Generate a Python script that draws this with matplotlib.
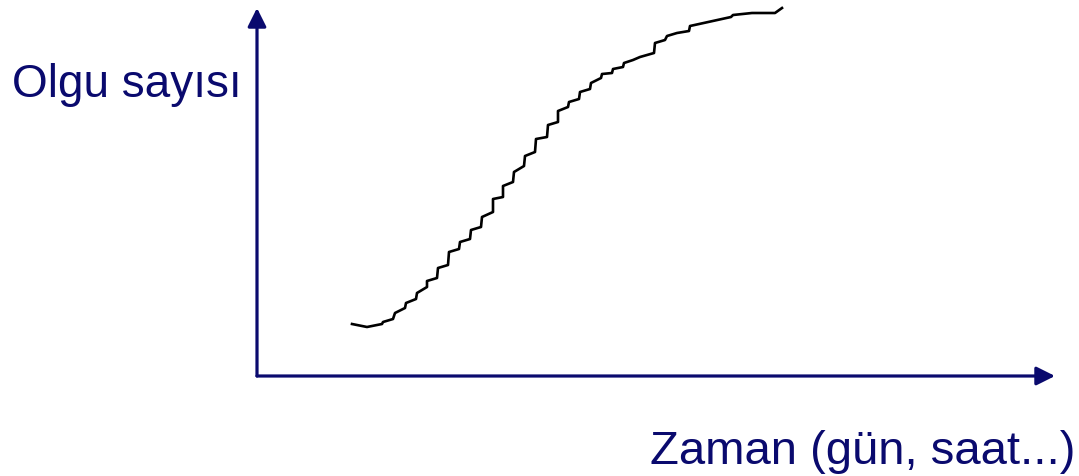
import numpy as np
import matplotlib.pyplot as plt

# === Données (temps, nombre de cas) ===
zaman = [95, 110, 125, 126, 136, 138, 148, 149, 159, 160, 170, 170, 180, 181, 191, 192,
         202, 203, 213, 214, 224, 225, 236, 236, 246, 246, 256, 257, 267, 268, 278, 279,
         290, 291, 301, 301, 311, 312, 322, 323, 333, 334, 344, 345, 355, 356, 366, 367,
         376, 383, 397, 398, 408, 410, 420, 432, 433, 474, 476, 495, 518, 525]
olgu = [52, 49, 52, 54, 57, 63, 68, 73, 77, 83, 89, 95, 98, 108, 111, 124,
        127, 134, 137, 146, 149, 159, 164, 177, 179, 190, 194, 204, 210, 220, 224, 237,
        239, 251, 254, 265, 269, 274, 277, 284, 287, 293, 298, 302, 303, 307, 309, 313,
        316, 319, 323, 333, 336, 340, 343, 345, 350, 359, 361, 363, 363, 368]

NAVY = "#0a0a6e"

fig = plt.figure(figsize=(10.79, 4.76), dpi=100)
ax = fig.add_axes([257 / 1079, 100 / 476, 798 / 1079, 368 / 476])
ax.set_xlim(0, 798)
ax.set_ylim(0, 368)
ax.axis("off")

# axes avec flèches
for tip in [(0, 1), (1, 0)]:
    ax.annotate("", xy=tip, xytext=(0, 0), xycoords="axes fraction",
                arrowprops=dict(arrowstyle="-|>", lw=2.3, color=NAVY, mutation_scale=28,
                                shrinkA=0, shrinkB=0))

ax.plot(zaman, olgu, color="black", lw=1.9, clip_on=False)

fig.text(12 / 1079, 1 - 97 / 476, "Olgu sayısı", color=NAVY, fontsize=33,
         family="Liberation Sans", ha="left", va="baseline")
fig.text(1075 / 1079, 1 - 464 / 476, "Zaman (gün, saat...)", color=NAVY, fontsize=34,
         family="Liberation Sans", ha="right", va="baseline")

fig.savefig("out.png", dpi=100)
